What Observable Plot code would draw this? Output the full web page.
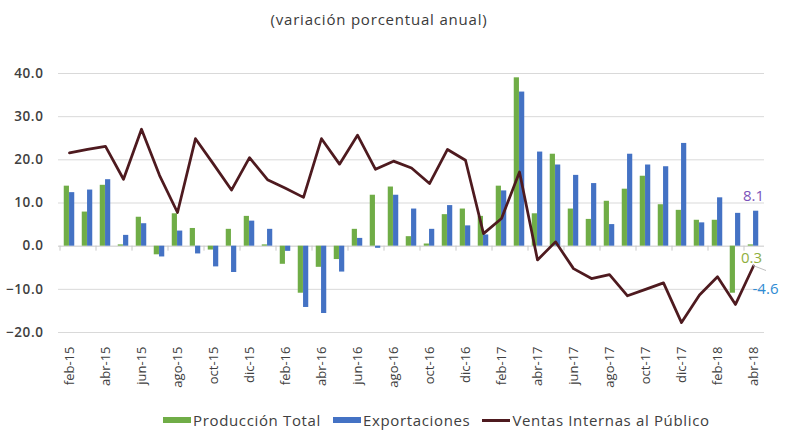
<!DOCTYPE html>
<html><head><meta charset="utf-8">
<script src="https://cdn.jsdelivr.net/npm/d3@7"></script>
<script src="https://cdn.jsdelivr.net/npm/@observablehq/plot@0.6"></script>
<style>
body{margin:0;background:#fff;}
#wrap{position:relative;width:787px;height:430px;font-family:"Open Sans",sans-serif;color:#404040;overflow:hidden;}
#title{position:absolute;top:9px;left:0;width:758px;text-align:center;font-size:15px;letter-spacing:0.8px;color:#3a3a3a;}
#chart{position:absolute;top:36px;left:0;}
#legend{position:absolute;top:410px;left:163px;display:flex;align-items:center;font-size:15px;letter-spacing:0.65px;color:#404040;white-space:nowrap;}
.item{display:flex;align-items:center;margin-right:12px;}
.sw{display:inline-block;width:28px;margin-right:2px;}
g[aria-label="y-axis tick label"] text{letter-spacing:0.6px;}
</style></head>
<body>
<div id="wrap">
  <div id="title">(variación porcentual anual)</div>
  <div id="chart"></div>
  <div id="legend"></div>
</div>
<script>
const months = ["feb-15","mar-15","abr-15","may-15","jun-15","jul-15","ago-15","sep-15","oct-15","nov-15","dic-15",
"ene-16","feb-16","mar-16","abr-16","may-16","jun-16","jul-16","ago-16","sep-16","oct-16","nov-16","dic-16",
"ene-17","feb-17","mar-17","abr-17","may-17","jun-17","jul-17","ago-17","sep-17","oct-17","nov-17","dic-17",
"ene-18","feb-18","mar-18","abr-18"];
const produccion = [13.9,7.9,14.1,0.3,6.7,-2.0,7.5,4.1,-0.9,3.9,6.9,0.3,-4.2,-10.9,-4.9,-3.1,3.9,11.8,13.7,2.2,0.5,7.3,8.6,6.9,13.9,39.0,7.5,21.3,8.6,6.2,10.4,13.2,16.2,9.6,8.3,6.0,6.0,-10.9,0.3];
const exportaciones = [12.4,13.0,15.4,2.5,5.2,-2.5,3.5,-1.8,-4.8,-6.1,5.8,3.9,-1.2,-14.2,-15.6,-6.0,1.8,-0.5,11.8,8.6,3.9,9.4,4.7,2.6,12.8,35.7,21.8,18.8,16.4,14.5,5.0,21.3,18.8,18.4,23.8,5.4,11.2,7.6,8.1];
const ventas = [21.6,22.4,23.1,15.5,27.1,16.4,7.8,24.9,19.0,13.0,20.5,15.4,13.4,11.3,24.9,19.0,25.7,17.8,19.7,18.1,14.5,22.4,19.9,2.9,6.4,17.2,-3.2,1.0,-5.2,-7.5,-6.6,-11.5,-10.0,-8.5,-17.7,-11.3,-7.1,-13.5,-4.6];
const seriesNames = ["Producción Total","Exportaciones","Ventas Internas al Público"];
const seriesColors = ["#70AD47","#4472C4","#4E1A1F"];
const yTicks = [-20,-10,0,10,20,30,40];
const tickMonths = months.filter((d,i)=>i%2===0);
const lastLabels = [
  {month:"abr-18", value:8.1, text:"8.1"},
  {month:"abr-18", value:0.3, text:"0.3"},
  {month:"abr-18", value:-4.6, text:"-4.6"}
];

const data = months.map((m,i)=>({month:m, prod:produccion[i], exp:exportaciones[i], ven:ventas[i]}));
const W=787, H=368, mL=58, mR=23;
const bw = (W-mL-mR)/months.length;
const barW = 5.3;

const plot = Plot.plot({
  width:W, height:H, marginLeft:mL, marginRight:mR, marginTop:37, marginBottom:72,
  style:{fontFamily:"Open Sans, sans-serif", fontSize:"13px", color:"#404040", background:"white"},
  x:{type:"band", domain:months, padding:0},
  y:{domain:[-20,40]},
  marks:[
    Plot.gridY(yTicks.filter(d=>d!==0), {stroke:"#D9D9D9", strokeOpacity:1}),
    Plot.ruleY([0], {stroke:"#C8C8C8"}),
    Plot.barY(data, {x:"month", y:"prod", fill:seriesColors[0], insetLeft:bw/2-barW, insetRight:bw/2}),
    Plot.barY(data, {x:"month", y:"exp", fill:seriesColors[1], insetLeft:bw/2, insetRight:bw/2-barW}),
    Plot.lineY(data, {x:"month", y:"ven", stroke:seriesColors[2], strokeWidth:2.75, strokeLinejoin:"round"}),
    Plot.axisY(yTicks, {tickFormat:d3.format(".1f"), tickSize:0, tickPadding:15, fontWeight:600, fontSize:13.5, label:null, fill:"#404040"}),
    Plot.axisX(tickMonths, {tickRotate:-90, tickSize:0, tickPadding:14, label:null, fontSize:13, fill:"#404040"}),
    Plot.text([lastLabels[0]], {x:"month", y:"value", text:"text", fill:"#7B52B9", fontSize:15, dx:0, dy:-15}),
    Plot.text([lastLabels[1]], {x:"month", y:"value", text:"text", fill:"#8FAF3F", fontSize:15, dx:-2, dy:13}),
    Plot.text([lastLabels[2]], {x:"month", y:"value", text:"text", fill:"#2F8BD3", fontSize:15, dx:12, dy:23})
  ]
});
document.getElementById("chart").appendChild(plot);

// zero-line tick marks and leader line, from the plot's own scales
const xs = plot.scale("x"), ys = plot.scale("y");
const svg = d3.select(plot);
const y0 = ys.apply(0);
const g = svg.append("g").attr("stroke","#C8C8C8");
tickMonths.forEach(m=>{
  const x = xs.apply(m);
  g.append("line").attr("x1",x).attr("x2",x).attr("y1",y0).attr("y2",y0+5);
});
const xe = xs.apply("abr-18") + xs.bandwidth/2, ye = ys.apply(-4.6);
svg.append("line").attr("x1",xe).attr("y1",ye).attr("x2",xe+13).attr("y2",ye+5).attr("stroke","#BFBFBF");

// legend
const leg = document.getElementById("legend");
seriesNames.forEach((n,i)=>{
  const it = document.createElement("div"); it.className="item";
  const sw = document.createElement("span"); sw.className="sw";
  sw.style.height = i===2 ? "3px" : "6px";
  sw.style.background = seriesColors[i];
  const t = document.createElement("span"); t.textContent = n;
  it.appendChild(sw); it.appendChild(t); leg.appendChild(it);
});
</script>
</body></html>
